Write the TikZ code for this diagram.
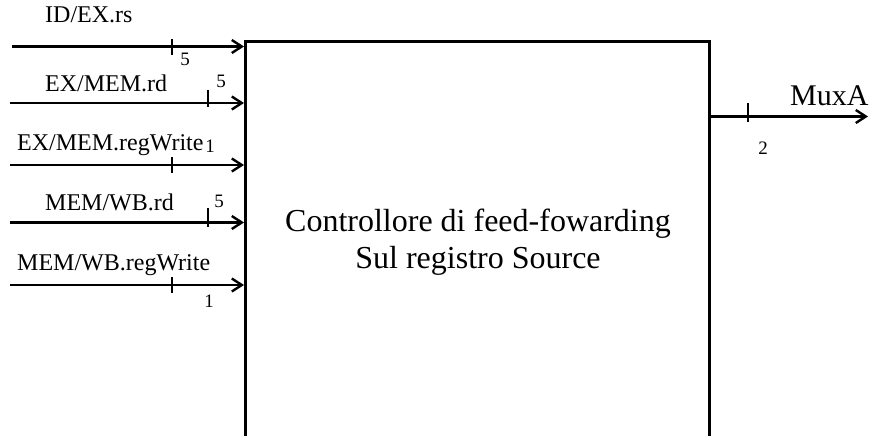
\documentclass[tikz,border=0pt]{standalone}
\usepackage{fontspec}
\setmainfont{Liberation Serif}
\usetikzlibrary{arrows.meta}
\tikzset{
  sig/.style={-{Straight Barb[length=10pt,width=13pt]}, line width=2.4pt},
  bus/.style={line width=2pt},
  signame/.style={anchor=base west, inner sep=0pt, font=\fontsize{24}{26}\selectfont},
  buswidth/.style={inner sep=0pt, font=\fontsize{19}{21}\selectfont}
}
\begin{document}
\begin{tikzpicture}[x=1pt,y=-1pt]
		\useasboundingbox (0,0) rectangle (875,436);
		\node[draw, line width=2.6pt, minimum width=464pt, minimum height=460pt, anchor=north west] (ctl) at (244,40) {};
		\node[align=center, font=\fontsize{32}{37}\selectfont] (title) at (478,242) {Controllore di feed-fowarding\\Sul registro Source};
	
		\coordinate (i1) at (12,46.5);
		\coordinate (i2) at (10,103);
		\coordinate (i3) at (10,165);
		\coordinate (i4) at (10,222.5);
		\coordinate (i5) at (10,285);
		\coordinate (out) at (868,116.5);
		
		\node[signame] (n1) at (45,23) {ID/EX.rs};
		\node[signame] (n2) at (45,91) {EX/MEM.rd};
		\node[signame] (n3) at (17,150) {EX/MEM.regWrite};
		\node[signame] (n4) at (45,210) {MEM/WB.rd};
		\node[signame] (n5) at (17,270) {MEM/WB.regWrite};
		\node[signame, font=\fontsize{30}{32}\selectfont] (nout) at (790,105) {MuxA};
		
		\draw[sig] (i1) -- (i1 -| ctl.west);
		\draw[sig] (i2) -- (i2 -| ctl.west);
		\draw[sig] (i3) -- (i3 -| ctl.west);
		\draw[sig] (i4) -- (i4 -| ctl.west);
		\draw[sig] (i5) -- (i5 -| ctl.west);
		\draw[sig] (out -| ctl.east) -- (out);
		
		\draw[bus] (172,39) -- (172,55);
		\draw[bus] (208,90) -- (208,107);
		\draw[bus] (172,157) -- (172,173);
		\draw[bus] (208,208) -- (208,227);
		\draw[bus] (172,277) -- (172,293);
		\draw[bus] (748,103) -- (748,122);
		
		\node[buswidth] (w1) at (185,59) {5};
		\node[buswidth] (w2) at (221,81) {5};
		\node[buswidth] (w3) at (210,146) {1};
		\node[buswidth] (w4) at (219,201) {5};
		\node[buswidth] (w5) at (209,301) {1};
		\node[buswidth] (wout) at (763,148) {2};
\end{tikzpicture}
\end{document}
